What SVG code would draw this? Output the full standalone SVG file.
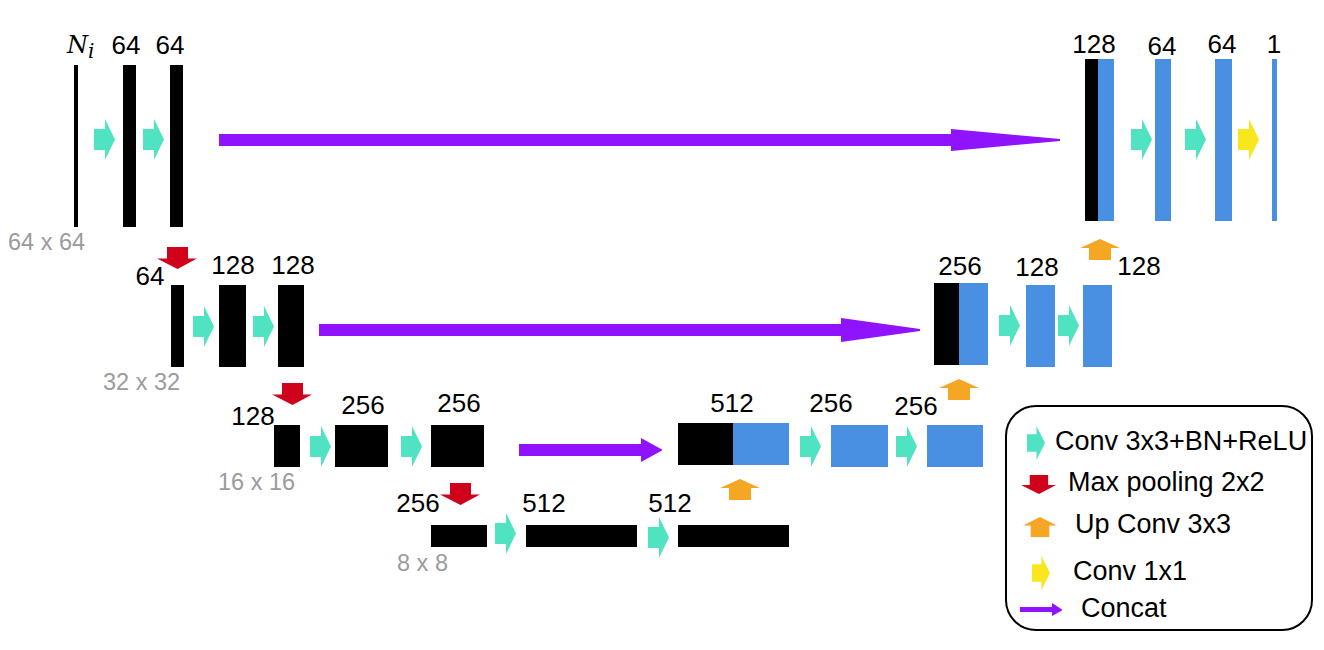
<svg xmlns="http://www.w3.org/2000/svg" xmlns:xlink="http://www.w3.org/1999/xlink" width="1324" height="650" viewBox="0 0 1324 650">
<style>
  .lbl { font-family: "Liberation Sans", Arial, sans-serif; font-size: 26px; fill: #000; text-anchor: middle; }
  .sz { font-family: "Liberation Sans", Arial, sans-serif; font-size: 23.5px; fill: #9B9B9B; }
  .leg { font-family: "Liberation Sans", Arial, sans-serif; font-size: 27px; fill: #000; }
  .blk { fill: #000; }
  .blu { fill: #4A90E2; }
  .cat { fill: #9013FE; }
</style>
<defs>
  <path id="conv" d="M0,10 H11 V0 L21,20.5 L11,41 V31 H0 Z"/>
  <path id="pool" d="M10,0 H31 V11.5 H40 L20.5,22 L0,11.5 H10 Z"/>
  <path id="up" d="M20,0 L40,9 H31 V21 H9 V9 H0 Z"/>
</defs>

<g id="bars-row1">
  <rect class="blk" x="74" y="65" width="4" height="162"/>
  <rect class="blk" x="123" y="65" width="13" height="162"/>
  <rect class="blk" x="170" y="65" width="13" height="162"/>
</g>
<g id="bars-row1-right">
  <rect class="blk" x="1085" y="59" width="13" height="162"/>
  <rect class="blu" x="1098" y="59" width="16" height="162"/>
  <rect class="blu" x="1155" y="59" width="16" height="162"/>
  <rect class="blu" x="1215" y="59" width="17" height="162"/>
  <rect class="blu" x="1272" y="59" width="5" height="162"/>
</g>
<g id="bars-row2">
  <rect class="blk" x="171" y="285" width="13" height="82"/>
  <rect class="blk" x="219" y="285" width="27" height="82"/>
  <rect class="blk" x="278" y="285" width="26" height="82"/>
</g>
<g id="bars-row2-right">
  <rect class="blk" x="934" y="283" width="25" height="82"/>
  <rect class="blu" x="959" y="283" width="29" height="82"/>
  <rect class="blu" x="1026" y="285" width="29" height="82"/>
  <rect class="blu" x="1083" y="285" width="29" height="82"/>
</g>
<g id="bars-row3">
  <rect class="blk" x="274" y="425" width="26" height="42"/>
  <rect class="blk" x="335" y="425" width="53" height="42"/>
  <rect class="blk" x="431" y="425" width="53" height="42"/>
</g>
<g id="bars-row3-right">
  <rect class="blk" x="678" y="423" width="55" height="42"/>
  <rect class="blu" x="733" y="423" width="56" height="42"/>
  <rect class="blu" x="831" y="425" width="57" height="42"/>
  <rect class="blu" x="927" y="425" width="56" height="42"/>
</g>
<g id="bars-row4">
  <rect class="blk" x="431" y="525" width="56" height="22"/>
  <rect class="blk" x="526" y="525" width="111" height="22"/>
  <rect class="blk" x="678" y="525" width="111" height="22"/>
</g>

<g id="connectors">
  <g fill="#50E3C2">
    <use xlink:href="#conv" x="94" y="119"/>
    <use xlink:href="#conv" x="143" y="119"/>
    <use xlink:href="#conv" x="1131" y="119"/>
    <use xlink:href="#conv" x="1185" y="119"/>
    <use xlink:href="#conv" x="193" y="306"/>
    <use xlink:href="#conv" x="253" y="306"/>
    <use xlink:href="#conv" x="999" y="305"/>
    <use xlink:href="#conv" x="1058" y="305"/>
    <use xlink:href="#conv" x="310" y="426"/>
    <use xlink:href="#conv" x="401" y="426"/>
    <use xlink:href="#conv" x="800" y="426"/>
    <use xlink:href="#conv" x="896" y="426"/>
    <use xlink:href="#conv" x="495" y="513"/>
    <use xlink:href="#conv" x="648" y="517"/>
  </g>
  <use xlink:href="#conv" x="1238" y="119" fill="#F8E71C"/>
  <g fill="#D0021B">
    <use xlink:href="#pool" x="157" y="247"/>
    <use xlink:href="#pool" x="272" y="383"/>
    <use xlink:href="#pool" x="440" y="483"/>
  </g>
  <g fill="#F5A623">
    <use xlink:href="#up" x="1080" y="239"/>
    <use xlink:href="#up" x="939" y="379"/>
    <use xlink:href="#up" x="720" y="479"/>
  </g>
  <polygon class="cat" points="219,134 951,134 951,129 1060,139 1060,141 951,151 951,146 219,146"/>
  <polygon class="cat" points="319,324 841,324 841,318 920,329 920,331 841,342 841,336 319,336"/>
  <polygon class="cat" points="519,444 641,444 641,438 662,449.5 662,450.5 641,462 641,456 519,456"/>
</g>

<g id="labels">
  <text x="67" y="53" font-family="'DejaVu Serif', 'Liberation Serif', serif" font-style="italic" font-size="24">N<tspan font-size="20" dy="5">i</tspan></text>
  <text class="lbl" x="126" y="54">64</text>
  <text class="lbl" x="170" y="54">64</text>
  <text class="lbl" x="1094" y="53">128</text>
  <text class="lbl" x="1162" y="55">64</text>
  <text class="lbl" x="1222" y="53">64</text>
  <text class="lbl" x="1274" y="53">1</text>
  <text class="lbl" x="1139" y="275">128</text>
  <text class="lbl" x="150" y="285">64</text>
  <text class="lbl" x="233" y="274">128</text>
  <text class="lbl" x="293" y="274">128</text>
  <text class="lbl" x="960" y="275">256</text>
  <text class="lbl" x="1037" y="276">128</text>
  <text class="lbl" x="253" y="425">128</text>
  <text class="lbl" x="363" y="414">256</text>
  <text class="lbl" x="459" y="412">256</text>
  <text class="lbl" x="732" y="412">512</text>
  <text class="lbl" x="831" y="412">256</text>
  <text class="lbl" x="916" y="415">256</text>
  <text class="lbl" x="418" y="512">256</text>
  <text class="lbl" x="544" y="512">512</text>
  <text class="lbl" x="670" y="512">512</text>
  <text class="sz" x="8" y="250">64 x 64</text>
  <text class="sz" x="103" y="390">32 x 32</text>
  <text class="sz" x="218" y="490">16 x 16</text>
  <text class="sz" x="397" y="571">8 x 8</text>
</g>

<g id="legend">
  <rect x="1006" y="406" width="306" height="224" rx="30" ry="30" fill="#fff" stroke="#000" stroke-width="2"/>
  <use xlink:href="#conv" transform="translate(1027,426) scale(0.86,0.83)" fill="#50E3C2"/>
  <text class="leg" x="1055" y="450">Conv 3x3+BN+ReLU</text>
  <use xlink:href="#pool" transform="translate(1021,475) scale(0.875,0.86)" fill="#D0021B"/>
  <text class="leg" x="1068" y="491">Max pooling 2x2</text>
  <use xlink:href="#up" transform="translate(1023,517) scale(0.85,0.95)" fill="#F5A623"/>
  <text class="leg" x="1075" y="533">Up Conv 3x3</text>
  <use xlink:href="#conv" transform="translate(1032,556) scale(0.86,0.83)" fill="#F8E71C"/>
  <text class="leg" x="1073" y="580">Conv 1x1</text>
  <polygon class="cat" points="1020,607 1052,607 1052,603 1062,609.5 1062,610.5 1052,616 1052,612 1020,612"/>
  <text class="leg" x="1081" y="617">Concat</text>
</g>
</svg>
